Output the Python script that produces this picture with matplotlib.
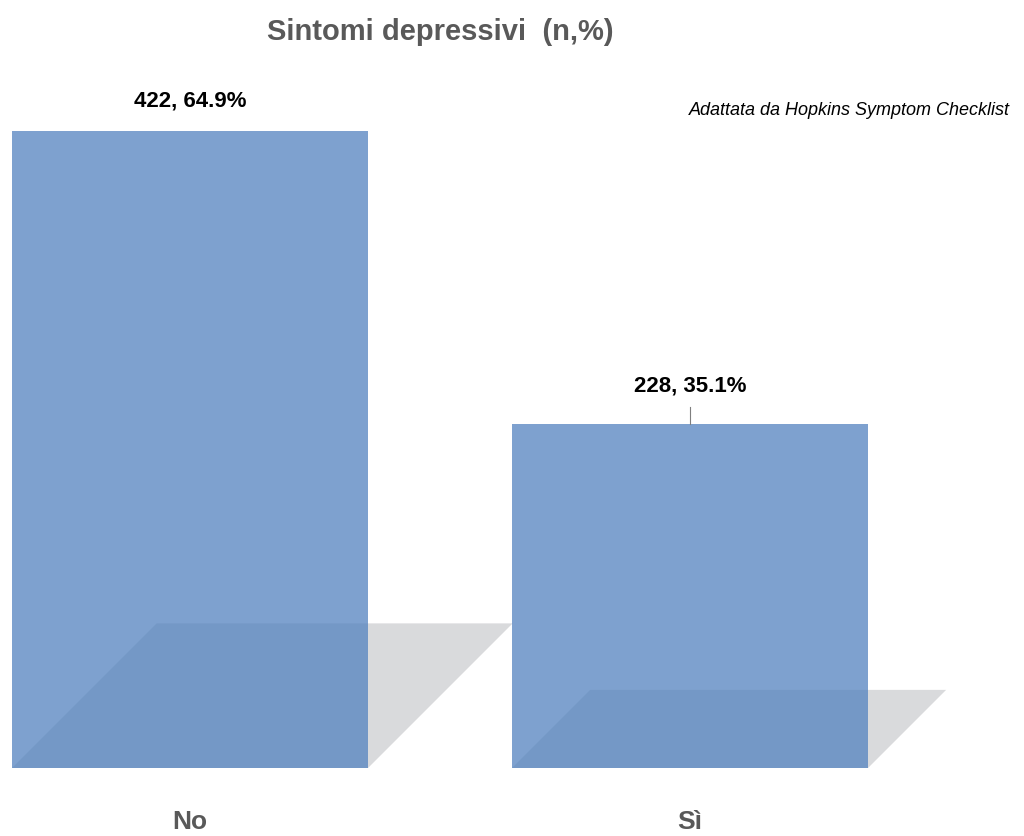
import matplotlib
matplotlib.use("agg")
import matplotlib.pyplot as plt
from matplotlib.patches import Polygon
import numpy as np

categories = ["No", "Sì"]
counts = [422, 228]
percents = [64.9, 35.1]

bar_color = "#5382bf"
shadow_color = "#d9dadc"
width = 0.712
plt.rcParams['font.family'] = ['Liberation Sans', 'DejaVu Sans']

fig = plt.figure(figsize=(10.24, 8.36), dpi=100)
ax = fig.add_axes([0, 0.0813, 1, 0.9187])
ax.set_xlim(-0.38, 1.668)
ax.set_ylim(0, 508.6)

x = np.arange(len(categories))

# perspective shadows: the top edge sits at ~23% of the bar height,
# shifted right by the same number of pixels
px_y = 768 / 508.6   # pixels per count
px_x = 500.0         # pixels per category step
k = 0.227
for xi, v in zip(x, counts):
    dy = k * v
    dx = dy * px_y / px_x
    pts = [(xi - width / 2, 0), (xi + width / 2, 0),
           (xi + width / 2 + dx, dy), (xi - width / 2 + dx, dy)]
    ax.add_patch(Polygon(pts, closed=True, facecolor=shadow_color,
                         edgecolor="none", zorder=1))

ax.bar(x, counts, width=width, color=bar_color, alpha=0.75, zorder=2)

for xi, n, p in zip(x, counts, percents):
    if n < 300:
        ax.plot([xi, xi], [n, n + 11], color="#7f7f7f", lw=0.8, zorder=3)
        ax.text(xi, n + 25, f"{n}, {p}%", ha="center", va="center",
                fontsize=16, fontweight="bold", color="black")
    else:
        ax.text(xi, n + 20, f"{n}, {p}%", ha="center", va="center",
                fontsize=16, fontweight="bold", color="black")

for side in ax.spines.values():
    side.set_visible(False)
ax.set_xticks(x)
ax.set_xticklabels(categories, fontsize=19, fontweight="bold", color="#595959")
ax.tick_params(axis="x", length=0, pad=30)
ax.set_yticks([])

fig.text(0.43, 0.962, "Sintomi depressivi  (n,%)", ha="center", va="center",
         fontsize=21, fontweight="bold", color="#595959")
fig.text(0.986, 0.868, "Adattata da Hopkins Symptom Checklist", ha="right",
         va="center", fontsize=13, style="italic", color="black")

fig.savefig("out.png", dpi=100)
